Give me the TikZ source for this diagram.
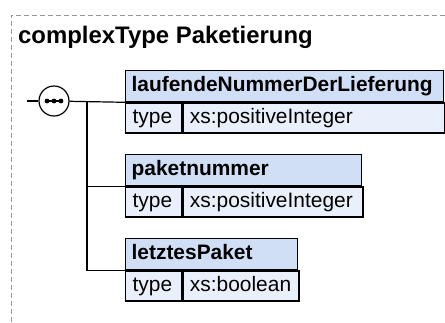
\documentclass[tikz,border=0pt]{standalone}
\usepackage{fontspec}
\setmainfont{Liberation Sans}
\usepackage{xcolor}
\usepackage{tikz}
\usetikzlibrary{positioning}
\definecolor{hdrblue}{RGB}{208,222,246}
\definecolor{rowblue}{RGB}{234,240,251}
\definecolor{framegray}{RGB}{150,150,150}

\begin{document}
\begin{tikzpicture}[
  x=1bp, y=-1bp,
  hdr/.style={draw, line width=1.3bp, fill=hdrblue, anchor=north west,
              inner xsep=6bp, inner ysep=0pt, minimum height=31bp,
              text height=16bp, text depth=5bp,
              font=\fontsize{21}{24}\bfseries},
  cell/.style={draw, line width=1.3bp, fill=rowblue, anchor=north west,
               inner xsep=7bp, inner ysep=0pt, minimum height=30bp,
               text height=16bp, text depth=5bp,
               font=\fontsize{21}{24}\selectfont},
  wire/.style={line width=1.2bp}]
\useasboundingbox (0,0) rectangle (445,322);
% frame and title
\draw[framegray, line width=0.9bp, dash pattern=on 5bp off 3bp]
  (11,330) -- (11,15) -- (460,15);
\node[anchor=base west, inner sep=0pt, font=\fontsize{24}{28}\bfseries]
  (title) at (18,43) {complexType Paketierung};
% sequence compositor
\coordinate (in) at (27,101);
\node[draw, circle, wire, fill=white, minimum size=30bp, inner sep=0pt]
  (seq) at (54,101) {};
\draw[wire] ([xshift=-7bp]seq.center) -- ([xshift=7bp]seq.center);
\foreach \dx in {-7,0,7}
  \fill ([xshift=\dx bp]seq.center) circle (2.4bp);
\coordinate (jn) at (87,101);
% elements
\node[hdr, text width=306bp] (h1) at (125,70) {laufendeNummerDerLieferung};
\node[cell, text width=42bp] (t1) at (h1.south west) {type};
\node[cell, text width=248bp] (v1) at (t1.north east) {xs:positiveInteger};
\node[hdr, text width=224bp] (h2) at (125,154) {paketnummer};
\node[cell, text width=42bp] (t2) at (h2.south west) {type};
\node[cell, text width=166bp] (v2) at (t2.north east) {xs:positiveInteger};
\node[hdr, text width=160bp] (h3) at (125,238) {letztesPaket};
\node[cell, text width=42bp] (t3) at (h3.south west) {type};
\node[cell, text width=102bp] (v3) at (t3.north east) {xs:boolean};
% connectors
\draw[wire] (in) -- (seq);
\draw[wire] (seq) -- (h1.south west);
\draw[wire] (jn) |- (h2.south west);
\draw[wire] (jn) |- (h3.south west);
\end{tikzpicture}
\end{document}
